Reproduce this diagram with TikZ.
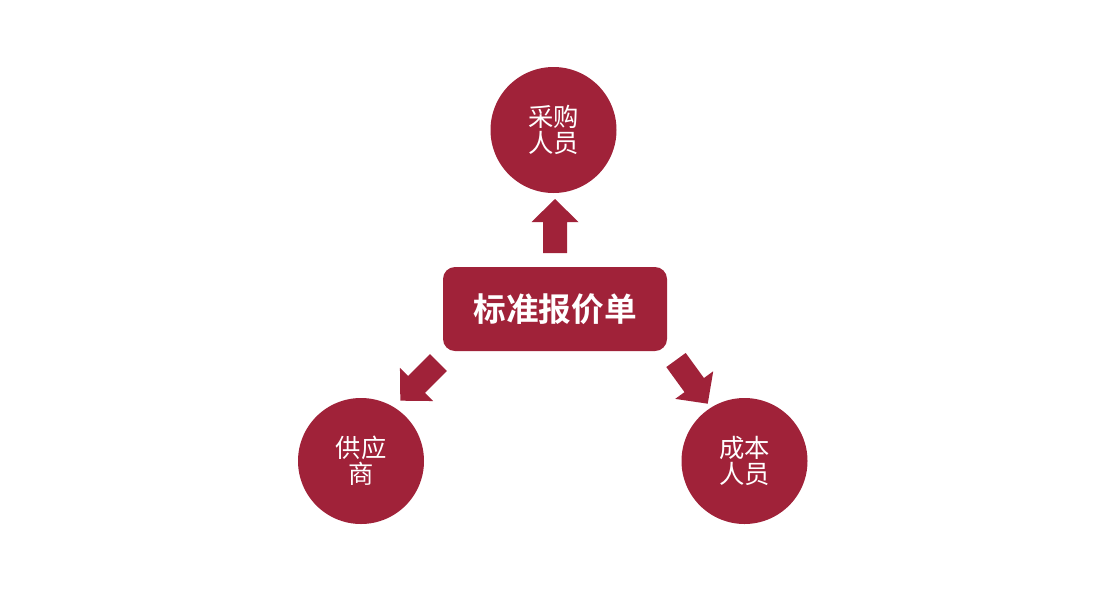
\documentclass[tikz,border=0pt]{standalone}
\usepackage{fontspec}
\newfontfamily\cjk{Noto Sans CJK SC}
\newfontfamily\cjkb{Noto Sans CJK SC Bold}
\definecolor{wine}{RGB}{160,34,57}
\begin{document}
\begin{tikzpicture}[x=0.75pt,y=-0.75pt,
  circ/.style={circle,fill=wine,minimum size=94.5pt,inner sep=0pt,text=white,align=center,font=\cjk\fontsize{19pt}{19.5pt}\selectfont},
  boxnode/.style={rounded corners=9pt,fill=wine,minimum width=168pt,minimum height=63pt,inner sep=0pt,text=white,font=\cjkb\fontsize{24.5pt}{28pt}\selectfont},
  blockarrow/.style={fill=wine}]
\useasboundingbox (0,0) rectangle (1118,597);
\node[boxnode] (box) at (555,309) {标准报价单};
\node[circ] (buyer) at (553.5,130) {采购\\人员};
\node[circ] (supplier) at (361,461) {供应\\商};
\node[circ] (cost) at (744.5,461) {成本\\人员};
\coordinate (upTail) at (555,253);
\coordinate (leftTail) at (438.5,362.5);
\coordinate (rightTail) at (676,360);
\foreach \t/\a in {upTail/90,leftTail/225,rightTail/-54}{
  \begin{scope}[shift={(\t)},rotate=\a]
    \fill[blockarrow] (0,-12) -- (31,-12) -- (31,-23.5) -- (54,0) -- (31,23.5) -- (31,12) -- (0,12) -- cycle;
  \end{scope}
}
\end{tikzpicture}
\end{document}
